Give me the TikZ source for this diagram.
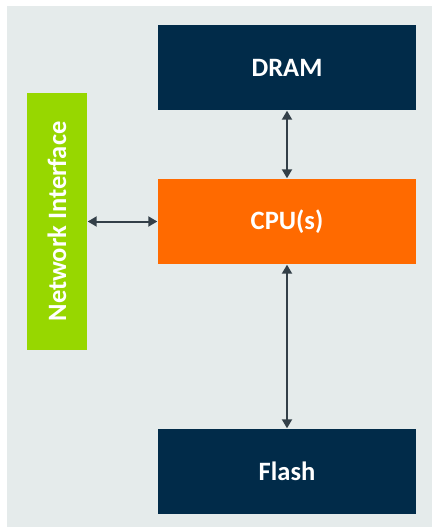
\documentclass[tikz,border=0pt]{standalone}
\usepackage{fontspec}
\setmainfont{Carlito}
\usetikzlibrary{arrows.meta}
\definecolor{bgc}{HTML}{E5EBEB}
\definecolor{navy}{HTML}{012B49}
\definecolor{orng}{HTML}{FF6A00}
\definecolor{lime}{HTML}{97D700}
\definecolor{arr}{HTML}{333F48}
\tikzset{
  lbl/.style={text=white, font=\fontsize{26.5}{30}\selectfont\bfseries},
  blk/.style={lbl, draw=none, minimum width=258pt, minimum height=85pt, inner sep=0pt},
  conn/.style={draw=arr, line width=2pt, {Triangle[width=10pt,length=9pt]}-{Triangle[width=10pt,length=9pt]}, shorten <=0.5pt, shorten >=0.5pt}
}
\begin{document}
\begin{tikzpicture}[x=1pt,y=-1pt]
\useasboundingbox (0,0) rectangle (432,528);
\fill[white] (0,0) rectangle (432,528);
\fill[bgc] (7,6) rectangle (432,527);
\node[blk, fill=navy] (dram) at (287,67.5) {DRAM};
\node[blk, fill=orng] (cpu) at (287,221.5) {CPU(s)};
\node[blk, fill=navy] (flash) at (287,471.5) {Flash};
\node[blk, fill=lime, minimum width=60pt, minimum height=257pt] (net) at (57,221.5) {};
\node[lbl, rotate=90, inner sep=0pt] (netlbl) at (net.center) {Network Interface};
\draw[conn] (dram.south) -- (cpu.north);
\draw[conn] (cpu.south) -- (flash.north);
\draw[conn] (net.east) -- (cpu.west);
\end{tikzpicture}
\end{document}
